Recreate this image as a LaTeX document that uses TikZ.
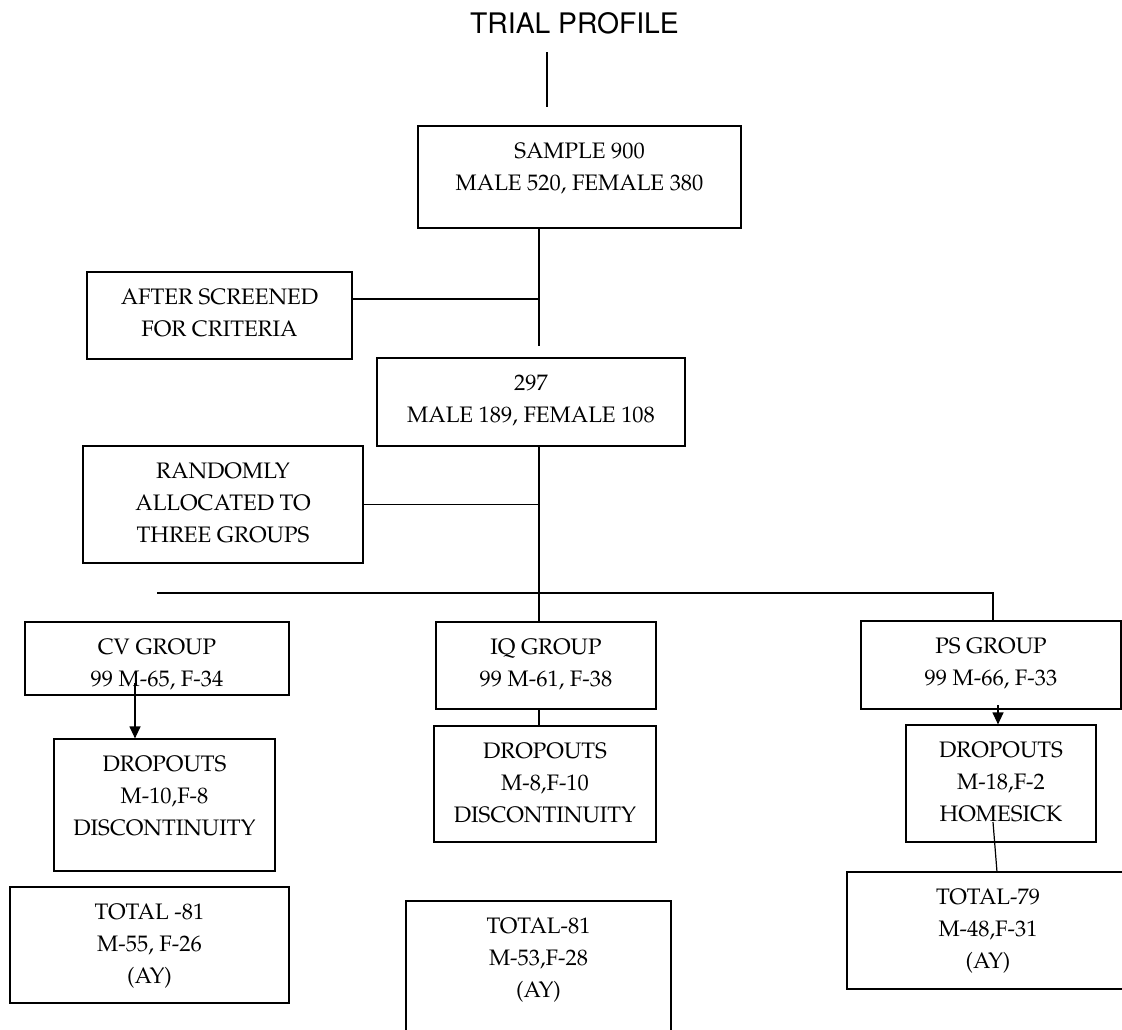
\documentclass[tikz,border=0pt]{standalone}
\usepackage[T1]{fontenc}
\usepackage{mathpazo}
\usepackage{helvet}
\usetikzlibrary{arrows.meta}
\newcommand\bxt[3]{\parbox[c][#2pt][t]{#1pt}{\centering\rule{0pt}{32.5pt}#3}}
\tikzset{
  box/.style={draw, line width=1.2pt, inner sep=0pt, font=\fontsize{22.4}{32}\selectfont},
  conn/.style={line width=1.2pt},
  arr/.style={line width=1.2pt, -{Triangle[length=12pt,width=11pt]}},
}
\begin{document}
\begin{tikzpicture}[x=1pt,y=-1pt]
\useasboundingbox (0,0) rectangle (1122,1029);
\clip (0,0) rectangle (1122,1029);
% title
\node[anchor=base, inner sep=0pt, font=\fontsize{28.3}{34}\sffamily\selectfont] (title) at (574.5,33) {TRIAL PROFILE};
\coordinate (t1) at (547,52);
\coordinate (t2) at (547,107);
\draw[conn] (t1) -- (t2);
% boxes
\node[box] (s)   at (579.5,177)  {\bxt{323}{102}{SAMPLE 900\\MALE 520, FEMALE 380}};
\node[box] (a)   at (219.5,315.5){\bxt{265}{87}{AFTER SCREENED\\FOR CRITERIA}};
\node[box] (p)   at (531,402)    {\bxt{308}{88}{297\\MALE 189, FEMALE 108}};
\node[box] (r)   at (223,504.5)  {\bxt{280}{117}{RANDOMLY\\ALLOCATED TO\\THREE GROUPS}};
\node[box] (cv)  at (157,658.5)  {\bxt{264}{73}{CV GROUP\\99 M-65, F-34}};
\node[box] (iq)  at (546,665.5)  {\bxt{220}{87}{IQ GROUP\\99 M-61, F-38}};
\node[box] (ps)  at (991,665)    {\bxt{260}{88}{PS GROUP\\99 M-66, F-33}};
\node[box] (cvd) at (164.5,805)  {\bxt{221}{132}{DROPOUTS\\M-10,F-8\\DISCONTINUITY}};
\node[box] (iqd) at (545,784)    {\bxt{222}{116}{DROPOUTS\\M-8,F-10\\DISCONTINUITY}};
\node[box] (psd) at (1001,783.5) {\bxt{190}{117}{DROPOUTS\\M-18,F-2\\HOMESICK}};
\node[box] (cvt) at (149.5,945)  {\bxt{279}{116}{TOTAL -81\\M-55, F-26\\(AY)}};
\node[box] (iqt) at (538.5,971)  {\bxt{265}{140}{TOTAL-81\\M-53,F-28\\(AY)}};
\node[box] (pst) at (988,930.5)  {\bxt{282}{117}{TOTAL-79\\M-48,F-31\\(AY)}};
% connectors
\coordinate (j1) at (539,346);
\draw[conn] (s.south -| j1) -- (j1);
\draw[conn] ([yshift=16.5pt]a.east) -- ([yshift=16.5pt]a.east -| j1);
\draw[conn] (p.south -| j1) -- (iq.north -| j1);
\draw[conn] (r.east) -- (r.east -| j1);
\coordinate (bl) at (157,593);
\coordinate (br) at (993,593);
\draw[conn] (bl) -- (br) -- (br |- ps.north);
\coordinate (cva) at (135,683);
\draw[arr] (cva) -- (cva |- cvd.north);
\draw[conn] (iq.south -| j1) -- (iqd.north -| j1);
\coordinate (psa) at (998,705);
\draw[arr] (psa) -- (psa |- psd.north);
\coordinate (psl1) at (993,822);
\coordinate (psl2) at (997,872);
\draw[conn] (psl1) -- (psl2);
\end{tikzpicture}
\end{document}
